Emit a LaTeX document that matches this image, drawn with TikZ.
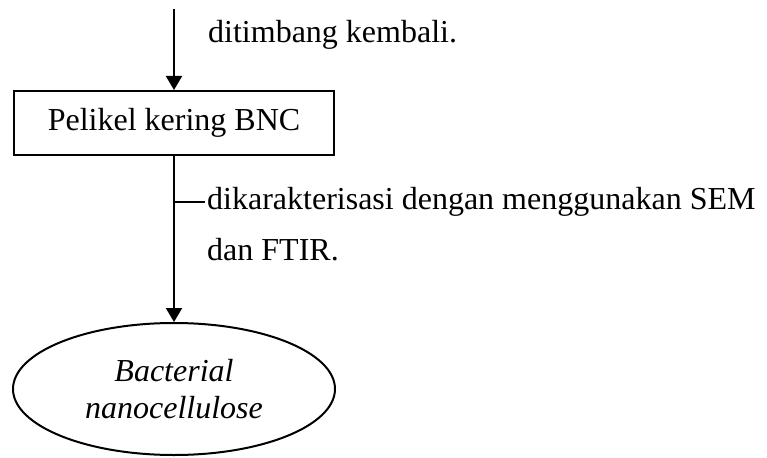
\documentclass[tikz,border=0pt]{standalone}
\usepackage{fontspec}
\setmainfont{Liberation Serif}
\usetikzlibrary{arrows.meta,shapes.geometric}
\begin{document}
\begin{tikzpicture}[x=1pt,y=-1pt,
  every node/.style={font=\fontsize{32}{37}\selectfont},
  line/.style={line width=2pt},
  arr/.style={line width=2pt,-{Triangle[length=14pt,width=16pt]}},
  boxstyle/.style={draw,line width=2pt,rectangle,minimum width=320pt,minimum height=64pt,inner sep=0pt},
  ellstyle/.style={draw,line width=2pt,ellipse,minimum width=322pt,minimum height=132pt,inner sep=0pt,align=center},
  lbl/.style={anchor=base west,inner sep=0pt}]
\useasboundingbox (0,0) rectangle (767,457);
\coordinate (top) at (174,9);
\node[boxstyle] (box) at (174,123) {Pelikel kering BNC};
\node[ellstyle] (ell) at (174,389) {\itshape Bacterial\\\itshape nanocellulose};
\draw[arr] (top) -- (box.north);
\draw[arr] (box.south) -- (ell.north);
\coordinate (t1) at (174,202);
\coordinate (t2) at (205,202);
\draw[line] (t1) -- (t2);
\node[lbl] (l1) at (208,43) {ditimbang kembali.};
\node[lbl] (l2) at (207,209) {dikarakterisasi dengan menggunakan SEM};
\node[lbl] (l3) at (207,260) {dan FTIR.};
\end{tikzpicture}
\end{document}
